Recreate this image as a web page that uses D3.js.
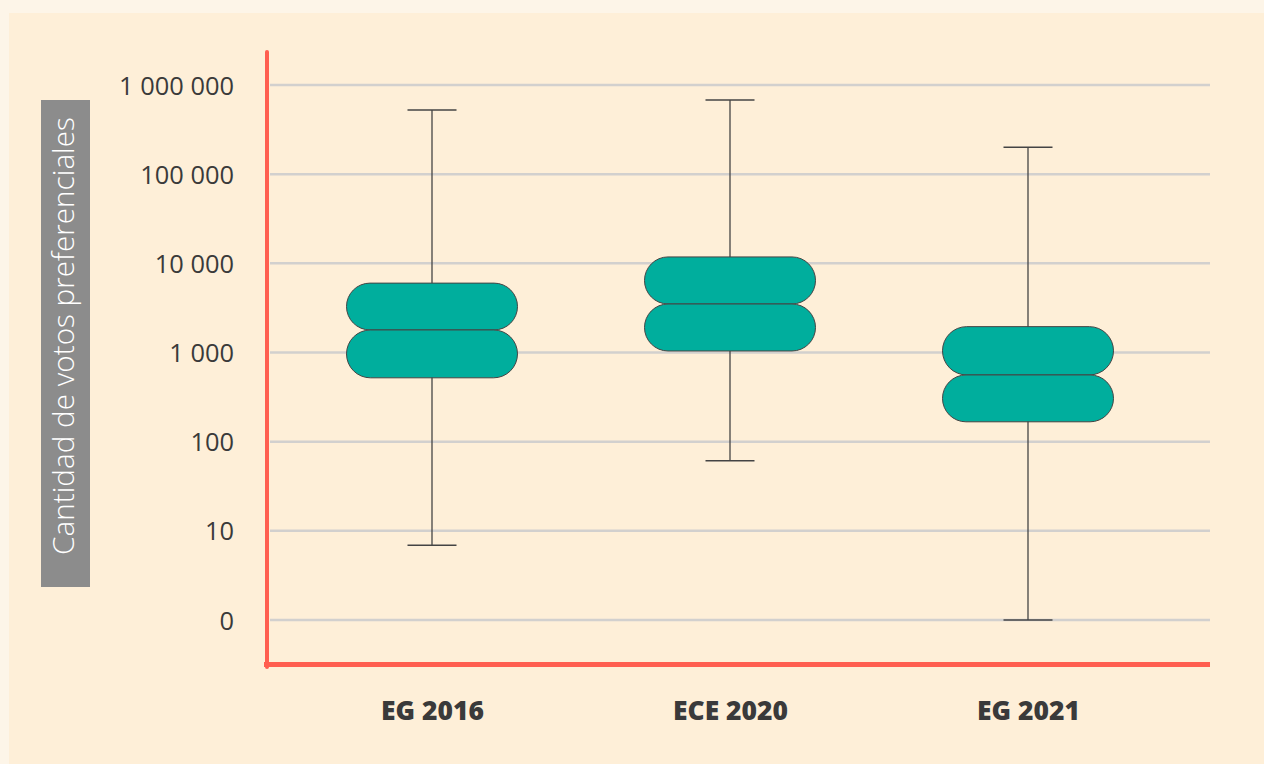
<!DOCTYPE html>
<html><head><meta charset="utf-8">
<script src="https://cdn.jsdelivr.net/npm/d3@7"></script>
<style>
html,body{margin:0;padding:0;background:#fdf5e8;}
svg{display:block;}
</style></head>
<body>
<svg id="chart" width="1264" height="764"></svg>
<script>
const categories = ["EG 2016", "ECE 2020", "EG 2021"];
const whiskerMax = [525000, 680000, 200000];
const q3Values   = [6000, 11800, 1950];
const medians    = [1790, 3500, 560];
const q1Values   = [520, 1040, 167];
const whiskerMin = [6.9, 61, 1];
const tickValues = [1, 10, 100, 1000, 10000, 100000, 1000000];
const tickLabels = ["0", "10", "100", "1 000", "10 000", "100 000", "1 000 000"];
const yAxisTitle = "Cantidad de votos preferenciales";

const svg = d3.select("#chart");
svg.append("rect").attr("x", 9).attr("y", 13).attr("width", 1264 - 9).attr("height", 764 - 13).attr("fill", "#feefd8");

const y = d3.scaleLog().domain([1, 1000000]).range([620, 85]);
const x = d3.scalePoint().domain(categories).range([432, 1028]);

const font = "'Open Sans', sans-serif";

function fit(sel, target) {
  const node = sel.node();
  const w = node.getComputedTextLength();
  const fs = parseFloat(sel.attr("font-size"));
  sel.attr("font-size", fs * target / w);
}

// gridlines
const grid = svg.append("g");
grid.selectAll("line").data(tickValues).join("line")
  .attr("x1", 270).attr("x2", 1210)
  .attr("y1", d => y(d)).attr("y2", d => y(d))
  .attr("stroke", "#d2d0ce").attr("stroke-width", 2.5);

// y axis labels
const yAxis = d3.axisLeft(y).tickValues(tickValues).tickFormat((d, i) => tickLabels[i]).tickSize(0).tickPadding(0);
const yg = svg.append("g").attr("transform", "translate(234,0)").call(yAxis);
yg.select(".domain").remove();
yg.selectAll("text").attr("font-family", font).attr("font-size", 22).attr("fill", "#3a3a3a").attr("dy", "0.36em");
{
  const top = yg.selectAll("text").filter((d, i) => i === tickValues.length - 1);
  fit(top, 115);
  yg.selectAll("text").attr("font-size", top.attr("font-size"));
}

// y title box
svg.append("rect").attr("x", 41).attr("y", 100).attr("width", 49).attr("height", 487).attr("fill", "#8c8c8c");
const title = svg.append("text").attr("transform", "translate(74,336) rotate(-90)")
  .attr("text-anchor", "middle").attr("font-family", font).attr("font-weight", 300)
  .attr("font-size", 22).attr("fill", "#ffffff").text(yAxisTitle);
fit(title, 438);

// red axes
svg.append("line").attr("x1", 267).attr("x2", 267).attr("y1", 52).attr("y2", 667)
  .attr("stroke", "#ff5e50").attr("stroke-width", 4).attr("stroke-linecap", "round");
svg.append("line").attr("x1", 264).attr("x2", 1210).attr("y1", 664.5).attr("y2", 664.5)
  .attr("stroke", "#ff5e50").attr("stroke-width", 5);

// x labels
const xAxis = d3.axisBottom(x).tickSize(0).tickPadding(0);
const xg = svg.append("g").attr("transform", "translate(0,710)").call(xAxis);
xg.select(".domain").remove();
xg.selectAll("text").attr("font-family", font).attr("font-weight", 800).attr("font-size", 22).attr("fill", "#3a3a3a").attr("dy", "0.36em");
{
  const mid = xg.selectAll("text").filter((d, i) => i === 1);
  fit(mid, 115);
  xg.selectAll("text").attr("font-size", mid.attr("font-size"));
}

// boxes
const data = categories.map((c, i) => ({c, hi: whiskerMax[i], q3: q3Values[i], med: medians[i], q1: q1Values[i], lo: whiskerMin[i]}));
const boxW = 171, capW = 49;
const g = svg.append("g");
data.forEach(d => {
  const cx = x(d.c);
  const gg = g.append("g");
  gg.append("line").attr("x1", cx).attr("x2", cx).attr("y1", y(d.hi)).attr("y2", y(d.lo)).attr("stroke", "#444").attr("stroke-width", 1.3);
  gg.append("line").attr("x1", cx - capW/2).attr("x2", cx + capW/2).attr("y1", y(d.hi)).attr("y2", y(d.hi)).attr("stroke", "#444").attr("stroke-width", 1.5);
  gg.append("line").attr("x1", cx - capW/2).attr("x2", cx + capW/2).attr("y1", y(d.lo)).attr("y2", y(d.lo)).attr("stroke", "#444").attr("stroke-width", 1.5);
  [[d.q3, d.med], [d.med, d.q1]].forEach(([a, b]) => {
    const h = y(b) - y(a);
    gg.append("rect").attr("x", cx - boxW/2).attr("y", y(a)).attr("width", boxW).attr("height", h)
      .attr("rx", h/2).attr("ry", h/2)
      .attr("fill", "#00ae9d").attr("stroke", "#444").attr("stroke-width", 1);
  });
});
</script>
</body></html>
